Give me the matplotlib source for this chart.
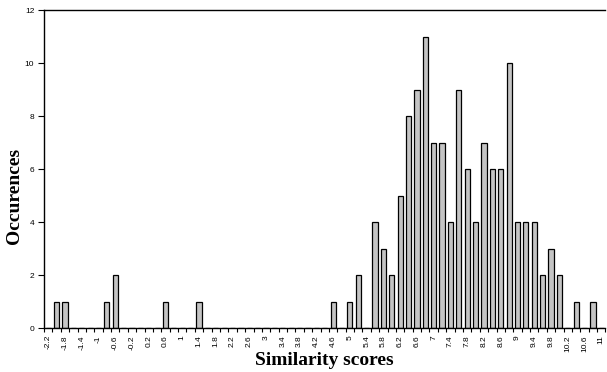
"""
Distribution of similarity scores (bar chart, one bar per 0.2 bin).
"""
import matplotlib
matplotlib.use("Agg")
import matplotlib.pyplot as plt
import numpy as np

# bin labels, one per category
scores = ["-2.2", "-2", "-1.8", "-1.6", "-1.4", "-1.2", "-1", "-0.8", "-0.6", "-0.4",
          "-0.2", "0", "0.2", "0.4", "0.6", "0.8", "1", "1.2", "1.4", "1.6",
          "1.8", "2", "2.2", "2.4", "2.6", "2.8", "3", "3.2", "3.4", "3.6",
          "3.8", "4", "4.2", "4.4", "4.6", "4.8", "5", "5.2", "5.4", "5.6",
          "5.8", "6", "6.2", "6.4", "6.6", "6.8", "7", "7.2", "7.4", "7.6",
          "7.8", "8", "8.2", "8.4", "8.6", "8.8", "9", "9.2", "9.4", "9.6",
          "9.8", "10", "10.2", "10.4", "10.6", "10.8", "11"]

occurences = [0, 1, 1, 0, 0, 0, 0, 1, 2, 0,
              0, 0, 0, 0, 1, 0, 0, 0, 1, 0,
              0, 0, 0, 0, 0, 0, 0, 0, 0, 0,
              0, 0, 0, 0, 1, 0, 1, 2, 0, 4,
              3, 2, 5, 8, 9, 11, 7, 7, 4, 9,
              6, 4, 7, 6, 6, 10, 4, 4, 4, 2,
              3, 2, 0, 1, 0, 1, 0]

y_ticks = [0, 2, 4, 6, 8, 10, 12]

fig = plt.figure(figsize=(6.07, 3.72), dpi=100)
ax = fig.add_axes([0.0725, 0.118, 0.925, 0.855])

x = np.arange(len(scores))
ax.bar(x, occurences, width=0.62, color="#c4c4c4", edgecolor="black", linewidth=0.9)

ax.set_xlim(-0.5, len(scores) - 0.5)
ax.set_ylim(0, 12)

tick_font = {"family": "Liberation Sans", "size": 6}

# labels on every other category, small tick marks between categories
ax.set_xticks(x[::2])
ax.set_xticklabels(scores[::2], rotation=90, fontdict=tick_font)
ax.set_xticks(np.arange(len(scores) + 1) - 0.5, minor=True)
ax.tick_params(axis="x", which="major", length=0, pad=5)
ax.tick_params(axis="x", which="minor", length=3, width=0.8, direction="out")

ax.set_yticks(y_ticks)
ax.set_yticklabels([str(v) for v in y_ticks], fontdict=tick_font)
ax.tick_params(axis="y", length=4, width=0.8, direction="out", pad=3)

for side in ["left", "bottom", "top"]:
    ax.spines[side].set_linewidth(1.0)
ax.spines["right"].set_visible(False)

label_font = {"family": "Liberation Serif", "weight": "bold", "size": 14}
ax.set_xlabel("Similarity scores", fontdict=label_font)
ax.xaxis.set_label_coords(0.5, -0.075)
ax.set_ylabel("Occurences", fontdict=label_font)
ax.yaxis.set_label_coords(-0.038, 0.415)

fig.savefig("out.png", dpi=100)
